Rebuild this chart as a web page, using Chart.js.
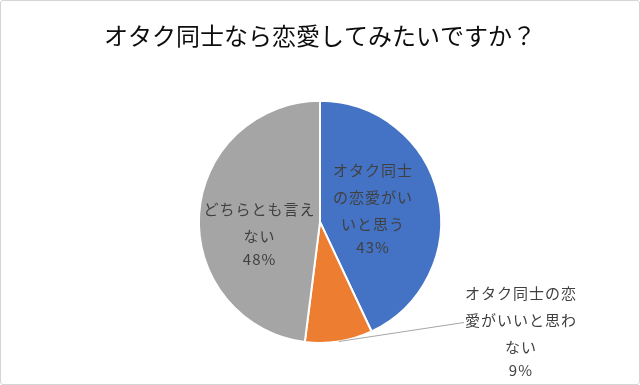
<!DOCTYPE html>
<html>
<head>
<meta charset="utf-8">
<script src="https://cdn.jsdelivr.net/npm/chart.js@4/dist/chart.umd.min.js"></script>
<style>
  html, body { margin: 0; padding: 0; background: #fff; }
  #wrap { width: 640px; height: 385px; box-sizing: border-box; border: 1px solid #d4d4d4; border-radius: 3px; }
  #chart { display: block; }
</style>
</head>
<body>
<div id="wrap"><canvas id="chart" width="638" height="383"></canvas></div>
<script>
// データ
const title = "オタク同士なら恋愛してみたいですか？";
const categories = ["オタク同士の恋愛がいいと思う", "オタク同士の恋愛がいいと思わない", "どちらとも言えない"];
const percents = [43, 9, 48];
const colors = ["#4472C4", "#ED7D31", "#A5A5A5"];

// ラベルの置き方（折り返し幅・ずらし）
const labelWrap = [85, 118, 118];
const labelOutside = [false, true, false];
const labelShift = [[-6, 0], [125, -19], [0, 16]];

const FONT = "'Noto Sans CJK JP', 'Noto Sans', sans-serif";

function wrapText(ctx, text, maxW) {
  let lines = [], cur = "";
  for (const ch of text) {
    if (cur && ctx.measureText(cur + ch).width > maxW) { lines.push(cur); cur = ch; }
    else cur += ch;
  }
  if (cur) lines.push(cur);
  return lines;
}

// スライスのラベル
const sliceLabels = {
  id: "sliceLabels",
  afterDatasetsDraw(chart) {
    const ctx = chart.ctx;
    const meta = chart.getDatasetMeta(0);
    ctx.save();
    ctx.font = "15px " + FONT;
    ctx.letterSpacing = "1px";
    ctx.fillStyle = "#404040";
    ctx.textAlign = "center";
    ctx.textBaseline = "middle";
    meta.data.forEach((arc, i) => {
      const p = arc.getProps(["x", "y", "startAngle", "endAngle", "outerRadius"], true);
      const mid = (p.startAngle + p.endAngle) / 2;
      const lines = wrapText(ctx, categories[i], labelWrap[i]);
      lines.push(percents[i] + "%");
      const lh = [];
      lines.forEach((l, k) => lh.push(k === lines.length - 1 ? 23 : 27));
      const total = lh.slice(1).reduce((a, b) => a + b, 0);
      let cx, cy;
      if (labelOutside[i]) {
        const ax = p.x + Math.cos(mid) * p.outerRadius;
        const ay = p.y + Math.sin(mid) * p.outerRadius;
        const ex = ax + labelShift[i][0];
        const ey = ay + labelShift[i][1];
        ctx.strokeStyle = "#a6a6a6";
        ctx.lineWidth = 1;
        ctx.beginPath();
        ctx.moveTo(ax, ay);
        ctx.lineTo(ex, ey);
        ctx.stroke();
        cx = ex + 57;
        cy = ey - 29 + total / 2;
      } else {
        cx = p.x + Math.cos(mid) * p.outerRadius * 0.5 + labelShift[i][0];
        cy = p.y + Math.sin(mid) * p.outerRadius * 0.5 + labelShift[i][1];
      }
      let y = cy - total / 2;
      lines.forEach((l, k) => {
        if (k > 0) y += lh[k];
        ctx.fillText(l, cx, y);
      });
    });
    ctx.restore();
  }
};

new Chart(document.getElementById("chart"), {
  type: "pie",
  data: {
    labels: categories,
    datasets: [{
      data: percents,
      backgroundColor: colors,
      borderColor: "#ffffff",
      borderWidth: 2,
    }],
  },
  options: {
    responsive: false,
    animation: false,
    layout: { padding: { top: 0, bottom: 40, left: 20, right: 20 } },
    plugins: {
      legend: { display: false },
      tooltip: { enabled: false },
      title: {
        display: true,
        text: title,
        color: "#0d0d0d",
        font: { family: FONT, size: 24, weight: "normal" },
        padding: { top: 20, bottom: 50 },
      },
    },
  },
  plugins: [sliceLabels],
});
</script>
</body>
</html>
